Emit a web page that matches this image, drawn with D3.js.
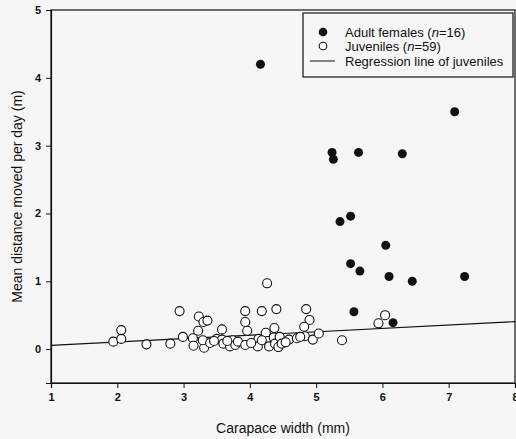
<!DOCTYPE html>
<html>
<head>
<meta charset="utf-8">
<script src="https://cdn.jsdelivr.net/npm/d3@7"></script>
<style>
  html, body { margin: 0; padding: 0; background: #f6f6f6; }
  svg { display: block; font-family: "Liberation Sans", Arial, sans-serif; }
</style>
</head>
<body>
<svg id="chart" width="516" height="439"></svg>
<script>
// ---- Data ----
const adultX = [7.09, 5.24, 5.26, 5.64, 6.30, 5.52, 5.36, 6.05, 5.52, 5.66, 6.10, 6.45, 7.24, 5.57, 6.16, 4.16];
const adultY = [3.50, 2.90, 2.80, 2.90, 2.88, 1.96, 1.88, 1.53, 1.26, 1.15, 1.07, 1.00, 1.07, 0.55, 0.39, 4.20];

const juvX = [1.94, 2.06, 2.06, 2.44, 2.80, 2.94, 2.99, 3.14, 3.15, 3.23,
              3.30, 3.36, 3.22, 3.31, 3.29, 3.40, 3.50, 3.58, 3.58, 3.60,
              3.70, 3.74, 3.78, 3.82, 3.93, 3.93, 3.93, 3.96, 4.13, 4.12,
              4.18, 4.26, 4.24, 4.27, 4.29, 4.37, 4.36, 4.38, 4.40, 4.43,
              4.45, 4.48, 4.59, 4.71, 4.83, 4.85, 4.90, 4.82, 4.95, 5.04,
              5.39, 5.94, 6.04, 3.46, 3.66, 4.02, 4.18, 4.54, 4.76];
const juvY = [0.11, 0.15, 0.28, 0.07, 0.08, 0.56, 0.18, 0.16, 0.05, 0.48,
              0.40, 0.42, 0.27, 0.02, 0.13, 0.09, 0.15, 0.29, 0.14, 0.08,
              0.04, 0.13, 0.06, 0.11, 0.06, 0.40, 0.56, 0.27, 0.15, 0.04,
              0.56, 0.97, 0.24, 0.12, 0.04, 0.31, 0.17, 0.08, 0.59, 0.03,
              0.18, 0.08, 0.14, 0.16, 0.19, 0.59, 0.43, 0.33, 0.14, 0.23,
              0.13, 0.38, 0.50, 0.12, 0.12, 0.09, 0.13, 0.10, 0.18];

// Regression line of juveniles (endpoints across the x range)
const regX = [1, 8];
const regY = [0.055, 0.405];

const xTicks = [1, 2, 3, 4, 5, 6, 7, 8];
const yTicks = [0, 1, 2, 3, 4, 5];

const legendLabels = [
  ["Adult females (", "n", "=16)"],
  ["Juveniles (", "n", "=59)"],
  ["Regression line of juveniles"]
];

// ---- Layout ----
const svg = d3.select("#chart");
const mLeft = 51, mRight = 515, mTop = 10, mBottom = 383;

const x = d3.scaleLinear().domain([1, 8]).range([mLeft, mRight]);
const y = d3.scaleLinear().domain([-0.5, 5]).range([mBottom, mTop]);

// Frame
svg.append("rect")
  .attr("x", mLeft).attr("y", mTop)
  .attr("width", mRight - mLeft).attr("height", mBottom - mTop)
  .attr("fill", "none").attr("stroke", "#111").attr("stroke-width", 1.2);

// Axes
const xAxis = d3.axisBottom(x).tickValues(xTicks).tickSize(5).tickPadding(5).tickFormat(d3.format("d"));
const yAxis = d3.axisLeft(y).tickValues(yTicks).tickSize(5).tickPadding(5).tickFormat(d3.format("d"));

const gx = svg.append("g").attr("transform", `translate(0,${mBottom})`).call(xAxis);
const gy = svg.append("g").attr("transform", `translate(${mLeft},0)`).call(yAxis);
[gx, gy].forEach(g => {
  g.select(".domain").attr("stroke", "#111").attr("stroke-width", 1.2);
  g.selectAll(".tick line").attr("stroke", "#111").attr("stroke-width", 1);
  g.selectAll(".tick text")
    .attr("fill", "#111")
    .style("font-size", "11px")
    .style("font-weight", "bold")
    .style("font-family", "'Liberation Sans', Arial, sans-serif");
});

// Axis titles
svg.append("text")
  .attr("x", (mLeft + mRight) / 2).attr("y", 433)
  .attr("text-anchor", "middle")
  .style("font-size", "14px").attr("fill", "#111")
  .text("Carapace width (mm)");

svg.append("text")
  .attr("transform", `translate(22,${(mTop + mBottom) / 2}) rotate(-90)`)
  .attr("text-anchor", "middle")
  .style("font-size", "14px").attr("fill", "#111")
  .text("Mean distance moved per day (m)");

// Regression line
svg.append("line")
  .attr("x1", x(regX[0])).attr("y1", y(regY[0]))
  .attr("x2", x(regX[1])).attr("y2", y(regY[1]))
  .attr("stroke", "#111").attr("stroke-width", 1.1);

// Juveniles (open circles)
svg.append("g").selectAll("circle")
  .data(juvX.map((d, i) => [d, juvY[i]]))
  .join("circle")
  .attr("cx", d => x(d[0])).attr("cy", d => y(d[1]))
  .attr("r", 4.5)
  .attr("fill", "#fff").attr("stroke", "#111").attr("stroke-width", 1.1);

// Adult females (filled)
svg.append("g").selectAll("circle")
  .data(adultX.map((d, i) => [d, adultY[i]]))
  .join("circle")
  .attr("cx", d => x(d[0])).attr("cy", d => y(d[1]))
  .attr("r", 4.5)
  .attr("fill", "#111");

// Legend
const lg = svg.append("g");
lg.append("rect")
  .attr("x", 303).attr("y", 13).attr("width", 210).attr("height", 64)
  .attr("fill", "#f6f6f6").attr("stroke", "#111").attr("stroke-width", 1.2);

const rowsY = [32, 46, 61];
lg.append("circle").attr("cx", 323).attr("cy", rowsY[0]).attr("r", 4.3).attr("fill", "#111");
lg.append("circle").attr("cx", 323).attr("cy", rowsY[1]).attr("r", 3.8)
  .attr("fill", "#fff").attr("stroke", "#111").attr("stroke-width", 1.1);
lg.append("line").attr("x1", 310).attr("x2", 335).attr("y1", rowsY[2]).attr("y2", rowsY[2])
  .attr("stroke", "#111").attr("stroke-width", 1);

legendLabels.forEach((parts, i) => {
  const t = lg.append("text")
    .attr("x", 345).attr("y", rowsY[i] + 4.5)
    .style("font-size", "13px").attr("fill", "#111");
  parts.forEach((p, j) => {
    const ts = t.append("tspan").text(p);
    if (j === 1) ts.style("font-style", "italic");
  });
});
</script>
</body>
</html>
